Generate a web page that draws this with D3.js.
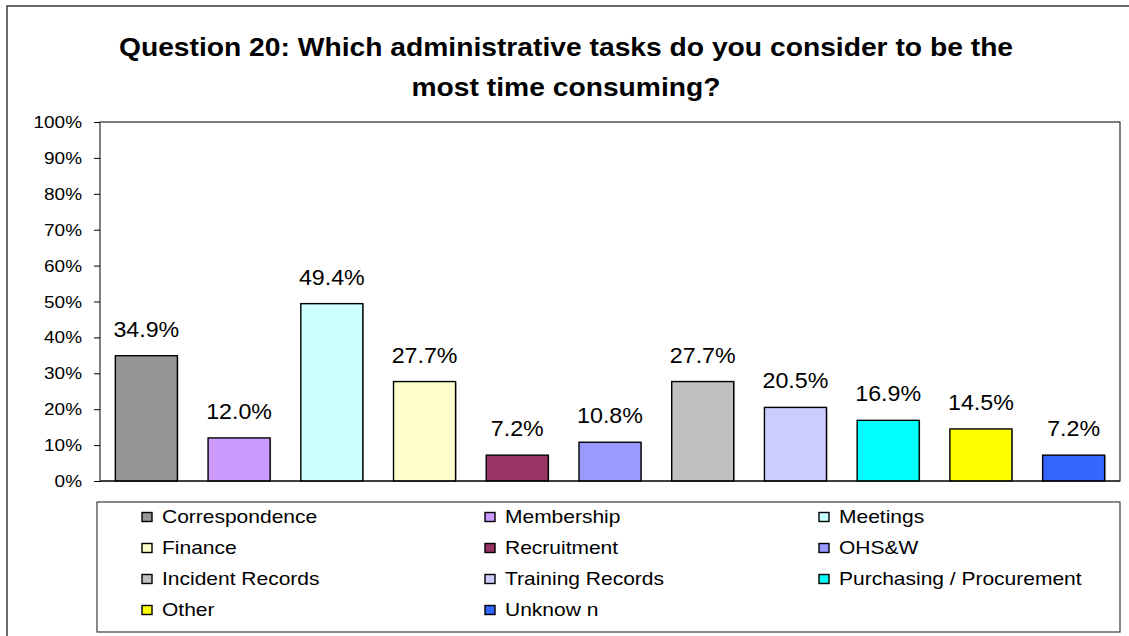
<!DOCTYPE html>
<html>
<head>
<meta charset="utf-8">
<script src="https://cdn.jsdelivr.net/npm/d3@7"></script>
<style>
  html, body { margin: 0; padding: 0; background: #fff; }
  svg { display: block; }
  text { font-family: "Liberation Sans", Arial, sans-serif; fill: #000; }
</style>
</head>
<body>
<svg id="chart" width="1129" height="636"></svg>
<script>
// Survey results: share of respondents naming each task
const categories = ["Correspondence", "Membership", "Meetings", "Finance", "Recruitment", "OHS&W",
  "Incident Records", "Training Records", "Purchasing / Procurement", "Other", "Unknow n"];
const values = [34.9, 12.0, 49.4, 27.7, 7.2, 10.8, 27.7, 20.5, 16.9, 14.5, 7.2];
const colors = ["#969696", "#cc99ff", "#ccffff", "#ffffcc", "#993366", "#9999ff",
  "#c0c0c0", "#ccccff", "#00ffff", "#ffff00", "#3366ff"];
const yTicks = [0, 10, 20, 30, 40, 50, 60, 70, 80, 90, 100];
const titleLines = ["Question 20: Which administrative tasks do you consider to be the",
  "most time consuming?"];

const svg = d3.select("#chart");
const W = 1129, H = 636;
const plot = { left: 100, right: 1120, top: 122, bottom: 481 };

// outer chart frame
svg.append("rect")
  .attr("x", 7).attr("y", 6).attr("width", W + 20).attr("height", H + 20)
  .attr("fill", "#fff").attr("stroke", "#3a3a3a").attr("stroke-width", 1.5);

// text helper with a horizontal stretch
function stretchedText(parent, x, y, str, size, sx, anchor, weight) {
  return parent.append("text")
    .attr("transform", `translate(${x},${y}) scale(${sx},1)`)
    .attr("text-anchor", anchor || "start")
    .attr("font-size", size)
    .attr("font-weight", weight || "normal")
    .text(str);
}

// title
titleLines.forEach((t, i) => {
  stretchedText(svg, 566, 56 + i * 40, t, 25, 1.13, "middle", "bold");
});

const x = d3.scaleBand().domain(categories).range([plot.left, plot.right])
  .paddingInner(0.331).paddingOuter(0.1655);
const y = d3.scaleLinear().domain([0, 100]).range([plot.bottom, plot.top]);

// plot area border
svg.append("rect")
  .attr("x", plot.left).attr("y", plot.top)
  .attr("width", plot.right - plot.left).attr("height", plot.bottom - plot.top)
  .attr("fill", "#fff").attr("stroke", "#000").attr("stroke-width", 1);

// y axis
const tickSX = 1.15;
const yAxis = svg.append("g")
  .attr("transform", `translate(${plot.left},0)`)
  .call(d3.axisLeft(y).tickValues(yTicks).tickFormat(d => d + "%").tickSize(6).tickPadding(10));
yAxis.select(".domain").attr("stroke", "#808080").attr("stroke-width", 1);
yAxis.selectAll(".tick line").attr("stroke", "#000");
yAxis.selectAll(".tick text")
  .attr("font-family", '"Liberation Sans", Arial, sans-serif')
  .attr("font-size", 16.5)
  .attr("fill", "#000")
  .attr("x", null).attr("dy", null)
  .attr("dominant-baseline", "central")
  .attr("transform", `translate(-18,0) scale(${tickSX},1)`);

// bars with a soft drop shadow
const bars = svg.append("g");
bars.selectAll("rect.shadow").data(values).join("rect")
  .attr("class", "shadow")
  .attr("x", (d, i) => x(categories[i]) + 1)
  .attr("y", d => y(d) + 1)
  .attr("width", x.bandwidth())
  .attr("height", d => plot.bottom - y(d))
  .attr("fill", "#a8a8a8");
bars.selectAll("rect.bar").data(values).join("rect")
  .attr("class", "bar")
  .attr("x", (d, i) => x(categories[i]))
  .attr("y", d => y(d))
  .attr("width", x.bandwidth())
  .attr("height", d => plot.bottom - y(d))
  .attr("fill", (d, i) => colors[i])
  .attr("stroke", "#000").attr("stroke-width", 1.4);

// baseline
svg.append("line")
  .attr("x1", plot.left).attr("x2", plot.right)
  .attr("y1", plot.bottom).attr("y2", plot.bottom)
  .attr("stroke", "#000").attr("stroke-width", 1);

// value labels
values.forEach((v, i) => {
  stretchedText(svg, x(categories[i]) + x.bandwidth() / 2, y(v) - 19, v.toFixed(1) + "%", 21.5, 1.08, "middle");
});

// legend
const legend = { left: 97, right: 1120, top: 502, bottom: 632 };
svg.append("rect")
  .attr("x", legend.left).attr("y", legend.top)
  .attr("width", legend.right - legend.left).attr("height", legend.bottom - legend.top)
  .attr("fill", "#fff").attr("stroke", "#3a3a3a").attr("stroke-width", 1.2);

const colX = [142, 485, 819];
const rowY = [517, 548, 579, 610];
categories.forEach((c, i) => {
  const col = i % 3, row = Math.floor(i / 3);
  const sx = colX[col], cy = rowY[row];
  svg.append("rect")
    .attr("x", sx).attr("y", cy - 4.5).attr("width", 10).attr("height", 9)
    .attr("fill", colors[i]).attr("stroke", "#000").attr("stroke-width", 1.4);
  stretchedText(svg, sx + 20, cy + 6, c, 17.5, 1.2, "start");
});
</script>
</body>
</html>
